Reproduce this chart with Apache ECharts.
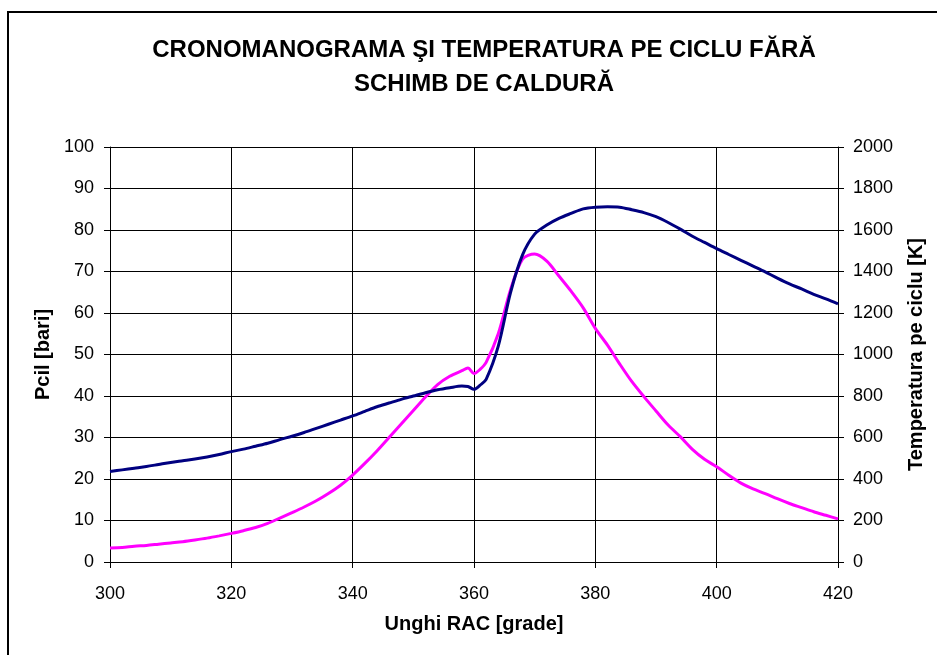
<!DOCTYPE html>
<html>
<head>
<meta charset="utf-8">
<script src="https://cdn.jsdelivr.net/npm/echarts@6/dist/echarts.min.js"></script>
<style>
  html, body { margin: 0; padding: 0; background: #fff; }
  #chart { width: 937px; height: 655px; }
</style>
</head>
<body>
<div id="chart"></div>
<script>
// Crank angle [deg RAC]
const angles = [
  300, 302, 304, 306, 308, 310, 312, 314, 316, 318,
  320, 322, 324, 326, 328, 330, 332, 334, 336, 338,
  340, 342, 344, 346, 348, 350, 352, 354, 356, 358,
  359, 360, 361, 362, 364, 366, 368, 370, 372, 374,
  376, 378, 380, 382, 384, 386, 388, 390, 392, 394,
  396, 398, 400, 402, 404, 406, 408, 410, 412, 414,
  416, 418, 420
];

// Cylinder pressure [bar]
const pressure = [
  21.8, 22.2, 22.6, 23.0, 23.5, 24.0, 24.4, 24.8, 25.3, 25.9,
  26.6, 27.2, 27.9, 28.6, 29.5, 30.3, 31.2, 32.2, 33.2, 34.2,
  35.2, 36.3, 37.4, 38.3, 39.2, 40.0, 40.8, 41.5, 42.0, 42.4,
  42.3, 41.6, 42.6, 44.0, 52.0, 64.8, 74.0, 79.0, 81.2, 82.8,
  84.0, 85.1, 85.5, 85.6, 85.5, 84.9, 84.2, 83.2, 81.8, 80.2,
  78.5, 77.0, 75.5, 74.1, 72.7, 71.3, 69.9, 68.4, 67.0, 65.8,
  64.5, 63.4, 62.2
];

// Cycle temperature [K]
const temperature = [
  68, 70, 76, 80, 86, 92, 98, 106, 115, 126,
  138, 151, 166, 186, 212, 238, 265, 295, 330, 370,
  419, 475, 535, 600, 665, 730, 795, 855, 895, 922,
  935, 908, 928, 962, 1100, 1310, 1460, 1484, 1450, 1378,
  1305, 1225, 1126, 1045, 955, 870, 797, 728, 660, 604,
  543, 495, 459, 418, 380, 352, 330, 305, 282, 262,
  242, 225, 208
];

// Axis tick values
const xTicks = { min: 300, max: 420, step: 20 };
const pTicks = { min: 0, max: 100, step: 10 };
const tTicks = { min: 0, max: 2000, step: 200 };

const FONT = 'Liberation Sans, Arial, sans-serif';
const nameStyle = { fontFamily: FONT, fontWeight: 'bold', fontSize: 20, color: '#000' };
const labelStyle = { fontFamily: FONT, fontSize: 18, color: '#000' };

const chart = echarts.init(document.getElementById('chart'), null, { renderer: 'canvas' });

chart.setOption({
  backgroundColor: '#ffffff',
  animation: false,
  graphic: [{
    type: 'rect',
    shape: { x: 8, y: 12, width: 1000, height: 1000 },
    style: { fill: 'none', stroke: '#000', lineWidth: 2 },
    silent: true
  }],
  title: {
    text: 'CRONOMANOGRAMA ŞI TEMPERATURA PE CICLU FĂRĂ\nSCHIMB DE CALDURĂ',
    left: 479,
    top: 28,
    textAlign: 'center',
    textStyle: {
      fontFamily: FONT,
      fontWeight: 'bold',
      fontSize: 24,
      lineHeight: 34,
      color: '#000'
    }
  },
  grid: { left: 110, right: 99, top: 147, bottom: 93 },
  xAxis: {
    type: 'value',
    min: xTicks.min, max: xTicks.max, interval: xTicks.step,
    name: 'Unghi RAC [grade]',
    nameLocation: 'middle',
    nameGap: 52,
    nameTextStyle: nameStyle,
    axisLine: { show: true, lineStyle: { color: '#000', width: 1 } },
    axisTick: { show: true, inside: false, length: 6, lineStyle: { color: '#000' } },
    axisLabel: Object.assign({ margin: 23 }, labelStyle),
    splitLine: { show: true, lineStyle: { color: '#000', width: 1 } }
  },
  yAxis: [{
    type: 'value',
    position: 'left',
    min: pTicks.min, max: pTicks.max, interval: pTicks.step,
    name: 'Pcil [bari]',
    nameLocation: 'middle',
    nameGap: 57,
    nameRotate: 90,
    nameTextStyle: nameStyle,
    axisLine: { show: true, lineStyle: { color: '#000', width: 1 } },
    axisTick: { show: true, inside: false, length: 6, lineStyle: { color: '#000' } },
    axisLabel: Object.assign({ margin: 16 }, labelStyle),
    splitLine: { show: true, lineStyle: { color: '#000', width: 1 } }
  }, {
    type: 'value',
    position: 'right',
    min: tTicks.min, max: tTicks.max, interval: tTicks.step,
    name: 'Temperatura pe ciclu [K]',
    nameLocation: 'middle',
    nameGap: 68,
    nameRotate: 90,
    nameTextStyle: nameStyle,
    axisLine: { show: true, lineStyle: { color: '#000', width: 1 } },
    axisTick: { show: true, inside: false, length: 6, lineStyle: { color: '#000' } },
    axisLabel: Object.assign({ margin: 15, formatter: v => String(v) }, labelStyle),
    splitLine: { show: false }
  }],
  series: [{
    name: 'Pcil',
    type: 'line',
    yAxisIndex: 0,
    data: angles.map((a, i) => [a, pressure[i]]),
    showSymbol: false,
    smooth: 0.3,
    lineStyle: { color: '#000080', width: 3 },
    z: 3
  }, {
    name: 'Temperatura',
    type: 'line',
    yAxisIndex: 1,
    data: angles.map((a, i) => [a, temperature[i]]),
    showSymbol: false,
    smooth: 0.3,
    lineStyle: { color: '#ff00ff', width: 3 },
    z: 2
  }]
});
</script>
</body>
</html>
